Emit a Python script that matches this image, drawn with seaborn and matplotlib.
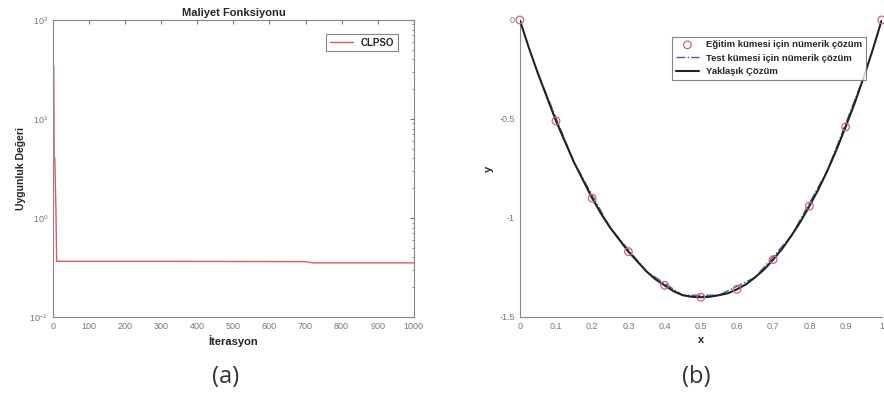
import matplotlib
matplotlib.use("Agg")
import matplotlib.pyplot as plt
import seaborn as sns
import pandas as pd

# (a) CLPSO maliyet eğrisi (kırılma noktaları)
iterasyon = [1, 2, 3, 5, 8, 10, 300, 700, 720, 1000]
uygunluk = [35.0, 33.0, 4.2, 4.0, 1.2, 0.365, 0.365, 0.362, 0.352, 0.352]

# (b) eğitim kümesi noktaları
x_egitim = [0.0, 0.1, 0.2, 0.3, 0.4, 0.5, 0.6, 0.7, 0.8, 0.9, 1.0]
y_egitim = [0.0, -0.51, -0.90, -1.17, -1.34, -1.40, -1.36, -1.21, -0.94, -0.54, 0.0]

# test kümesi
x_test = [0.05, 0.15, 0.25, 0.35, 0.45, 0.55, 0.65, 0.75, 0.85, 0.95]
y_test = [-0.27, -0.72, -1.05, -1.27, -1.39, -1.39, -1.30, -1.09, -0.76, -0.29]

# yaklaşık çözüm
x_yaklasik = [0.0, 0.025, 0.05, 0.075, 0.1, 0.125, 0.15, 0.175, 0.2, 0.225, 0.25,
              0.275, 0.3, 0.325, 0.35, 0.375, 0.4, 0.425, 0.45, 0.475, 0.5,
              0.525, 0.55, 0.575, 0.6, 0.625, 0.65, 0.675, 0.7, 0.725, 0.75,
              0.775, 0.8, 0.825, 0.85, 0.875, 0.9, 0.925, 0.95, 0.975, 1.0]
y_yaklasik = [0.0, -0.14, -0.27, -0.39, -0.51, -0.615, -0.72, -0.81, -0.90, -0.98, -1.05,
              -1.11, -1.17, -1.22, -1.27, -1.31, -1.34, -1.37, -1.39, -1.398, -1.40,
              -1.398, -1.39, -1.38, -1.36, -1.335, -1.30, -1.26, -1.21, -1.155, -1.09,
              -1.02, -0.94, -0.855, -0.76, -0.655, -0.54, -0.42, -0.29, -0.15, 0.0]

sns.set_style("white")
plt.rcParams['font.family'] = ['Liberation Sans', 'DejaVu Sans']
plt.rcParams['xtick.direction'] = 'in'
plt.rcParams['ytick.direction'] = 'in'

fig = plt.figure(figsize=(8.84, 3.95), dpi=100)
ax1 = fig.add_axes([0.060, 0.1975, 0.408, 0.752])
ax2 = fig.add_axes([0.588, 0.1975, 0.4095, 0.752])

tick_renk = '#777777'

# ---- (a) ----
df_a = pd.DataFrame({'İterasyon': iterasyon, 'Uygunluk': uygunluk})
sns.lineplot(data=df_a, x='İterasyon', y='Uygunluk', ax=ax1, color='#e05a5a',
             linewidth=1.0, label='CLPSO', estimator=None, sort=False)
ax1.set_yscale('log')
ax1.set_xlim(0, 1000)
ax1.set_ylim(0.1, 100)
ax1.set_xticks(range(0, 1001, 100))
ax1.tick_params(axis='both', which='both', top=True, right=True, labelsize=6.5,
                colors=tick_renk, length=3)
ax1.tick_params(which='minor', length=1.8)
for s in ax1.spines.values():
    s.set_color('#888888')
    s.set_linewidth(0.8)
ax1.set_title('Maliyet Fonksiyonu', fontsize=8, fontweight='bold', pad=3)
ax1.set_xlabel('İterasyon', fontsize=8, fontweight='bold', labelpad=3)
ax1.set_ylabel('Uygunluk Değeri', fontsize=7.5, fontweight='bold', labelpad=2)
leg1 = ax1.legend(loc='upper right', fontsize=7, frameon=True, fancybox=False,
                  handlelength=2.4, borderpad=0.4, bbox_to_anchor=(0.97, 0.97))
leg1.get_frame().set_edgecolor('#666666')
leg1.get_frame().set_linewidth(0.8)
for t in leg1.get_texts():
    t.set_fontweight('bold')

# ---- (b) ----
df_e = pd.DataFrame({'x': x_egitim, 'y': y_egitim})
df_t = pd.DataFrame({'x': x_test, 'y': y_test})
df_y = pd.DataFrame({'x': x_yaklasik, 'y': y_yaklasik})

sns.scatterplot(data=df_e, x='x', y='y', ax=ax2, marker='o', s=30,
                facecolor='none', edgecolor='#d9607a', linewidth=0.9,
                label='Eğitim kümesi için nümerik çözüm', zorder=4, clip_on=False)
sns.lineplot(data=df_t, x='x', y='y', ax=ax2, color='#4060b0', linestyle='-.',
             linewidth=1.0, label='Test kümesi için nümerik çözüm', zorder=2)
sns.lineplot(data=df_y, x='x', y='y', ax=ax2, color='#222222', linewidth=1.5,
             label='Yaklaşık Çözüm', zorder=3)
ax2.set_xlim(0, 1)
ax2.set_ylim(-1.5, 0)
ax2.set_xticks([i / 10 for i in range(11)])
ax2.set_xticklabels(['0', '0.1', '0.2', '0.3', '0.4', '0.5', '0.6', '0.7', '0.8', '0.9', '1'])
ax2.set_yticks([-1.5, -1, -0.5, 0])
ax2.set_yticklabels(['-1.5', '-1', '-0.5', '0'])
ax2.tick_params(axis='both', labelsize=6.5, colors=tick_renk, length=3)
sns.despine(ax=ax2)
for s in ax2.spines.values():
    s.set_color('#888888')
    s.set_linewidth(0.8)
ax2.set_xlabel('x', fontsize=8, fontweight='bold', labelpad=3)
ax2.set_ylabel('y', fontsize=8, fontweight='bold', labelpad=4)
leg2 = ax2.legend(loc='upper right', fontsize=6.8, frameon=True, fancybox=False,
                  handlelength=2.4, borderpad=0.4, labelspacing=0.45,
                  bbox_to_anchor=(0.97, 0.96))
leg2.get_frame().set_edgecolor('#666666')
leg2.get_frame().set_linewidth(0.8)
for t in leg2.get_texts():
    t.set_fontweight('bold')

fig.text(0.255, 0.045, '(a)', fontsize=17, family=['Open Sans', 'DejaVu Sans'],
         ha='center', va='center', color='#333333')
fig.text(0.788, 0.045, '(b)', fontsize=17, family=['Open Sans', 'DejaVu Sans'],
         ha='center', va='center', color='#333333')

fig.savefig('out.png', dpi=100)
